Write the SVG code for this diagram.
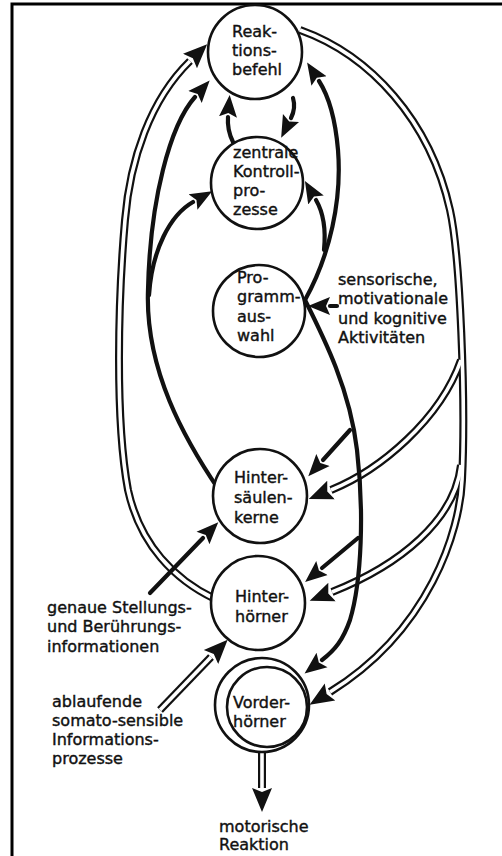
<svg xmlns="http://www.w3.org/2000/svg" width="502" height="856" viewBox="0 0 502 856">
<style>
text{font-family:"DejaVu Sans","Liberation Sans",sans-serif;font-size:16px;fill:#111;stroke:#111;stroke-width:0.4}
.node{fill:#fff;stroke:#111;stroke-width:2.6}
.thick{fill:none;stroke:#111;stroke-width:4.2;stroke-linecap:round}
.dblo{fill:none;stroke:#111;stroke-width:8}
.dbli{fill:none;stroke:#fff;stroke-width:3.6}
.frame{stroke:#000;stroke-width:3;fill:none}
</style>
<defs>
<marker id="ah" markerUnits="userSpaceOnUse" markerWidth="26" markerHeight="20" refX="0" refY="9" orient="auto" viewBox="0 0 26 18">
<path d="M0,0 L22,9 L0,18 L4,9 z" fill="#111"/>
</marker>
<marker id="ahd" markerUnits="userSpaceOnUse" markerWidth="28" markerHeight="22" refX="0" refY="10" orient="auto" viewBox="0 0 28 20">
<path d="M0,0 L24,10 L0,20 L4,10 z" fill="#111"/>
</marker>
</defs>
<path class="frame" d="M12,856 L12,4 L502,4"/>
<g id="connectors">
<g id="double-outer">
<path class="dblo" d="M215,599 C175,580 140,545 128,490 C115,420 118,300 125,220 C130,160 150,100 190,61" marker-end="url(#ahd)"/>
<path class="dblo" d="M300,30 C370,55 430,120 450,210 C460,255 466,400 462,480 C460,530 430,630 330,692" marker-end="url(#ahd)"/>
<path class="dblo" d="M461,360 C440,420 380,470 331,490" marker-end="url(#ahd)"/>
<path class="dblo" d="M461,465 C455,520 400,565 332,592" marker-end="url(#ahd)"/>
<path class="dblo" d="M262,752 L262,788" marker-end="url(#ahd)"/>
<path class="dblo" d="M160,710 L211,657" marker-end="url(#ahd)"/>
</g>
<g id="double-inner">
<path class="dbli" d="M215,599 C175,580 140,545 128,490 C115,420 118,300 125,220 C130,160 150,100 190,61"/>
<path class="dbli" d="M300,30 C370,55 430,120 450,210 C460,255 466,400 462,480 C460,530 430,630 330,692"/>
<path class="dbli" d="M461,360 C440,420 380,470 331,490"/>
<path class="dbli" d="M461,465 C455,520 400,565 332,592"/>
<path class="dbli" d="M262,752 L262,788"/>
<path class="dbli" d="M160,710 L211,657"/>
</g>
<g id="thick">
<path class="thick" d="M293,98 Q296,108 291,118" marker-end="url(#ah)"/>
<path class="thick" d="M233,142 Q227,130 228,117" marker-end="url(#ah)"/>
<path class="thick" d="M219,490 C185,440 145,370 148,290 C150,200 170,125 195,97" marker-end="url(#ah)"/>
<path class="thick" d="M149,295 C152,250 170,215 193,202" marker-end="url(#ah)"/>
<path class="thick" d="M305,300 C330,255 342,200 338,150 C335,115 328,95 319,81" marker-end="url(#ah)"/>
<path class="thick" d="M324,250 C326,230 323,212 316,200" marker-end="url(#ah)"/>
<path class="thick" d="M305,300 C325,340 350,390 357,450 C364,510 362,580 350,620 C343,640 335,650 322,660" marker-end="url(#ah)"/>
<path class="thick" d="M350,430 L323,460" marker-end="url(#ah)"/>
<path class="thick" d="M358,538 L322,568" marker-end="url(#ah)"/>
<path class="thick" d="M337,306 L330,306" marker-end="url(#ah)"/>
<path class="thick" d="M150,593 L203,538" marker-end="url(#ah)"/>
</g>
</g>
<g id="reaktionsbefehl">
<circle class="node" cx="255" cy="52" r="47"/>
<text x="232" y="37">Reak-</text><text x="232" y="56">tions-</text><text x="232" y="75">befehl</text>
</g>
<g id="zentrale">
<circle class="node" cx="257" cy="183" r="46"/>
<text x="233" y="158">zentrale</text><text x="233" y="177">Kontroll-</text><text x="233" y="196">pro-</text><text x="233" y="215">zesse</text>
</g>
<g id="programmauswahl">
<circle class="node" cx="259" cy="311" r="46"/>
<text x="237" y="283">Pro-</text><text x="237" y="302">gramm-</text><text x="237" y="322">aus-</text><text x="237" y="341">wahl</text>
</g>
<g id="hintersaeulenkerne">
<circle class="node" cx="260" cy="496" r="47"/>
<text x="234" y="483">Hinter-</text><text x="234" y="503">säulen-</text><text x="234" y="523">kerne</text>
</g>
<g id="hinterhoerner">
<circle class="node" cx="258" cy="603" r="47"/>
<text x="235" y="602">Hinter-</text><text x="235" y="622">hörner</text>
</g>
<g id="vorderhoerner">
<circle class="node" cx="262" cy="705" r="47"/>
<circle class="node" cx="267" cy="707" r="40"/>
<text x="233" y="708">Vorder-</text><text x="233" y="727">hörner</text>
</g>
<g id="labels">
<text x="338" y="285">sensorische,</text><text x="338" y="304">motivationale</text><text x="338" y="324">und kognitive</text><text x="338" y="343">Aktivitäten</text>
<text x="47" y="613">genaue Stellungs-</text><text x="47" y="632">und Berührungs-</text><text x="47" y="652">informationen</text>
<text x="52" y="707">ablaufende</text><text x="52" y="726">somato-sensible</text><text x="52" y="745">Informations-</text><text x="52" y="764">prozesse</text>
<text x="219" y="832">motorische</text><text x="219" y="850">Reaktion</text>
</g>
</svg>
